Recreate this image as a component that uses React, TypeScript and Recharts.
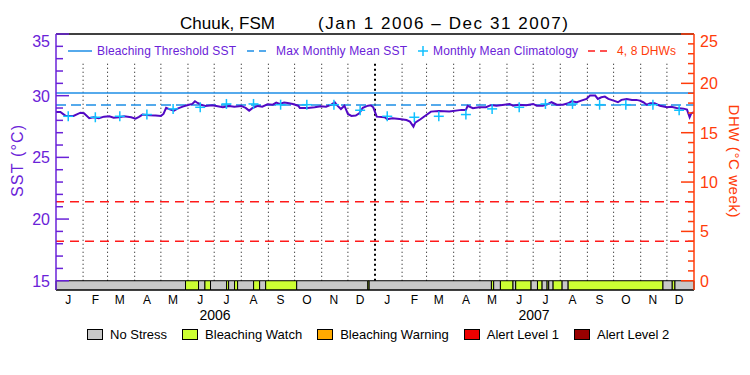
import {
  ComposedChart,
  Line,
  Scatter,
  XAxis,
  YAxis,
  ReferenceLine,
  ReferenceArea,
} from 'recharts';

const monthLetters = ['J', 'F', 'M', 'A', 'M', 'J', 'J', 'A', 'S', 'O', 'N', 'D'];
const years = [2006, 2007];

// monthly mean climatology (°C), Jan..Dec
const climatology = [28.33, 28.25, 28.33, 28.47, 28.93, 29.06, 29.33, 29.33, 29.27, 29.27, 29.27, 28.82];

const bleachingThreshold = 30.22;
const maxMonthlyMean = 29.25;
const dhwLevels = [4, 8];

// SST, days since Jan 1 2006
const sstDay = [
  0, 5, 11, 20, 28, 32, 38, 43, 49, 55, 61, 66, 72, 78, 86, 91, 95, 99, 107, 114,
  120, 123, 126, 131, 135, 139, 145, 150, 156, 159, 162, 166, 171, 179, 185, 191, 198, 204, 212, 217,
  221, 225, 231, 236, 242, 248, 252, 256, 261, 265, 271, 277, 279, 288, 296, 303, 309, 315, 319, 322,
  326, 330, 334, 338, 343, 347, 351, 357, 360, 363, 367, 376, 379, 385, 393, 401, 405, 409, 411, 417,
  429, 438, 450, 464, 469, 471, 477, 484, 492, 498, 504, 513, 519, 523, 529, 538, 546, 550, 557, 563,
  567, 573, 580, 586, 590, 596, 601, 607, 611, 617, 620, 624, 628, 632, 638, 643, 647, 653, 659, 664,
  668, 672, 676, 680, 685, 691, 699, 704, 710, 718, 722, 725, 727, 730,
];
const sstValue = [
  28.68, 28.68, 28.36, 28.36, 28.62, 28.58, 28.17, 28.25, 28.17, 28.3, 28.33, 28.22, 28.25, 28.33, 28.25, 28.14, 28.28, 28.47, 28.41, 28.39,
  28.36, 28.52, 29.01, 28.87, 28.79, 28.95, 29.11, 29.22, 29.33, 29.55, 29.41, 29.27, 29.17, 29.22, 29.14, 29.06, 29.17, 29.11, 29.17, 29.01,
  28.79, 29.01, 29.17, 29.11, 29.3, 29.27, 29.44, 29.33, 29.44, 29.41, 29.33, 29.19, 29.01, 29.01, 29.06, 29.14, 29.11, 29.27, 29.46, 29.19,
  28.92, 29.19, 28.52, 28.36, 28.39, 28.58, 29.01, 29.19, 29.22, 29.06, 28.3, 28.25, 28.09, 28.17, 28.11, 28.03, 27.9, 27.49, 27.82, 28.09,
  28.71, 28.76, 28.71, 28.85, 28.85, 29.17, 28.98, 29.06, 29.06, 29.25, 29.19, 29.27, 29.33, 29.19, 29.27, 29.22, 29.33, 29.19, 29.19, 29.33,
  29.47, 29.27, 29.27, 29.38, 29.55, 29.47, 29.6, 29.74, 30.01, 30.01, 29.74, 29.87, 29.93, 29.74, 29.6, 29.47, 29.66, 29.74, 29.66, 29.66,
  29.6, 29.47, 29.27, 29.38, 29.38, 29.19, 29.06, 29.11, 29.01, 28.95, 28.87, 28.25, 28.58, 28.66,
];

// bleaching alert status strip: segment edges (days) and level per segment
const stressEdges = [
  0, 148.2, 163.1, 170.4, 176.8, 195.2, 197.5, 204.3, 207.8, 226.1, 233.0, 239.9, 275.4, 356.8, 358.3,
  498.2, 500.8, 508.5, 522.9, 526, 543.6, 550.9, 556.2, 561.9, 563.8, 568.8, 579.1, 586, 694.5, 705.1, 708.2, 730,
];
const stressLevel = [0, 1, 0, 1, 0, 1, 0, 1, 0, 1, 0, 1, 0, 1, 0, 1, 0, 1, 0, 1, 0, 1, 0, 1, 0, 1, 0, 1, 0, 1, 0];
const stressLabels = ['No Stress', 'Bleaching Watch', 'Bleaching Warning', 'Alert Level 1', 'Alert Level 2'];
const stressColors = ['#c8c8c8', '#ccff33', '#ffaa00', '#ee0000', '#990000'];

const leftTicks = [15, 16, 17, 18, 19, 20, 21, 22, 23, 24, 25, 26, 27, 28, 29, 30, 31, 32, 33, 34, 35];
const rightTicks = [0, 1, 2, 3, 4, 5, 6, 7, 8, 9, 10, 11, 12, 13, 14, 15, 16, 17, 18, 19, 20, 21, 22, 23, 24, 25];

const PURPLE = '#6a22d8';
const SST_COLOR = '#5208c4';
const ORANGE = '#ff3c0a';
const BLUE = '#1e8ee6';
const CYAN = '#10c0ff';
const RED = '#ff1a1a';
const FONT = '"Liberation Sans", Arial, sans-serif';

const dayOf = (y: number, m: number, d: number) =>
  Math.round((Date.UTC(y, m, d) - Date.UTC(2006, 0, 1)) / 86400000);

const monthStarts = years.flatMap((y) => monthLetters.map((_, m) => dayOf(y, m, 1))).filter((d) => d > 0);
const monthMids = years.flatMap((y) => monthLetters.map((_, m) => dayOf(y, m, 15)));
const yearCenters = years.map((y) => dayOf(y, 6, 2));

const sstData = sstDay.map((day, i) => ({ day, sst: sstValue[i] }));
const climData = monthMids.map((day, i) => ({ day, clim: climatology[i % 12] }));

const XTick = ({ x, y, payload }: any) => {
  const yi = yearCenters.indexOf(payload.value);
  if (yi >= 0) {
    return (
      <text x={x} y={y + 30} textAnchor="middle" fontSize={14} fontFamily={FONT} fill="#000">
        {years[yi]}
      </text>
    );
  }
  const mi = monthMids.indexOf(payload.value);
  return (
    <text x={x} y={y + 14} textAnchor="middle" fontSize={12} fontFamily={FONT} fill="#000">
      {monthLetters[mi % 12]}
    </text>
  );
};

const LeftTick = ({ x, y, payload }: any) => {
  const major = payload.value % 5 === 0;
  return (
    <g>
      <line x1={x} x2={x + (major ? 13 : 7)} y1={y} y2={y} stroke={PURPLE} strokeWidth={1.5} />
      {major && (
        <text x={x - 6} y={Math.max(y, 41)} dy={6} textAnchor="end" fontSize={16} fontFamily={FONT} fill={PURPLE}>
          {payload.value}
        </text>
      )}
    </g>
  );
};

const RightTick = ({ x, y, payload }: any) => {
  const major = payload.value % 5 === 0;
  return (
    <g>
      <line x1={x} x2={x - (major ? 13 : 6)} y1={y} y2={y} stroke={ORANGE} strokeWidth={1.5} />
      {major && (
        <text x={x + 6} y={Math.max(y, 41)} dy={6} textAnchor="start" fontSize={16} fontFamily={FONT} fill={ORANGE}>
          {payload.value}
        </text>
      )}
    </g>
  );
};

const Cross = ({ cx, cy }: any) => (
  <g>
    <line x1={cx - 5} x2={cx + 5} y1={cy} y2={cy} stroke={CYAN} strokeWidth={1.5} />
    <line x1={cx} x2={cx} y1={cy - 5} y2={cy + 5} stroke={CYAN} strokeWidth={1.5} />
  </g>
);

export default function App() {
  return (
    <div style={{ position: 'absolute', left: 0, top: 0, width: 750, height: 375, background: '#fff' }}>
      <ComposedChart width={750} height={375} margin={{ top: 34, right: 0, bottom: 45, left: 0 }}>
        <XAxis
          type="number"
          dataKey="day"
          domain={[0, 730]}
          allowDataOverflow
          ticks={[...monthMids, ...yearCenters]}
          interval={0}
          tick={XTick}
          tickLine={false}
          tickSize={0}
          tickMargin={0}
          axisLine={{ stroke: '#000' }}
          height={40}
        />
        <YAxis
          yAxisId="left"
          type="number"
          domain={[14.25, 35]}
          allowDataOverflow
          ticks={leftTicks}
          interval={0}
          tick={LeftTick}
          tickLine={false}
          tickSize={0}
          tickMargin={0}
          axisLine={{ stroke: PURPLE, strokeWidth: 1.5 }}
          width={56}
        />
        <YAxis
          yAxisId="right"
          orientation="right"
          type="number"
          domain={[-0.9375, 25]}
          allowDataOverflow
          ticks={rightTicks}
          interval={0}
          tick={RightTick}
          tickLine={false}
          tickSize={0}
          tickMargin={0}
          axisLine={{ stroke: ORANGE, strokeWidth: 1.5 }}
          width={56}
        />

        {stressLevel.map((lvl, i) => (
          <ReferenceArea
            key={`s${i}`}
            yAxisId="left"
            x1={stressEdges[i]}
            x2={stressEdges[i + 1]}
            y1={14.25}
            y2={15}
            fill={stressColors[lvl]}
            fillOpacity={1}
            stroke="#000"
            strokeWidth={1}
          />
        ))}

        {monthStarts.map((d) => (
          <ReferenceLine
            key={`m${d}`}
            yAxisId="left"
            segment={[
              { x: d, y: 15 },
              { x: d, y: 32.67 },
            ]}
            stroke="#000"
            strokeWidth={d === 365 ? 2 : 1}
            strokeDasharray={d === 365 ? '2 3' : '1 3'}
          />
        ))}

        <ReferenceLine yAxisId="left" y={35} stroke="#000" strokeWidth={1.5} />
        <ReferenceLine yAxisId="left" y={bleachingThreshold} stroke={BLUE} strokeWidth={1.5} />
        <ReferenceLine yAxisId="left" y={maxMonthlyMean} stroke={BLUE} strokeWidth={1.5} strokeDasharray="10 5" />
        {dhwLevels.map((v) => (
          <ReferenceLine key={`d${v}`} yAxisId="right" y={v} stroke={RED} strokeWidth={1.5} strokeDasharray="9 6" />
        ))}

        <Scatter yAxisId="left" data={climData} dataKey="clim" shape={Cross} isAnimationActive={false} />
        <Line
          yAxisId="left"
          data={sstData}
          dataKey="sst"
          type="linear"
          stroke={SST_COLOR}
          strokeWidth={2}
          dot={false}
          isAnimationActive={false}
        />
      </ComposedChart>

      <svg
        width={750}
        height={375}
        style={{ position: 'absolute', left: 0, top: 0, pointerEvents: 'none' }}
        fontFamily={FONT}
      >
        <text x={180} y={29} fontSize={17} textLength={95} fill="#000">
          Chuuk, FSM
        </text>
        <text x={318} y={29} fontSize={17} textLength={250} fill="#000">
          (Jan 1 2006 – Dec 31 2007)
        </text>

        <line x1={68} x2={92} y1={51} y2={51} stroke={BLUE} strokeWidth={1.5} />
        <text x={97} y={55} fontSize={12} textLength={139} fill={PURPLE}>
          Bleaching Threshold SST
        </text>
        <line x1={247} x2={266} y1={51} y2={51} stroke={BLUE} strokeWidth={1.5} strokeDasharray="7 5" />
        <text x={276} y={55} fontSize={12} textLength={131} fill={PURPLE}>
          Max Monthly Mean SST
        </text>
        <Cross cx={423} cy={51} />
        <text x={433} y={55} fontSize={12} textLength={145} fill={PURPLE}>
          Monthly Mean Climatology
        </text>
        <line x1={588} x2={612} y1={51} y2={51} stroke={RED} strokeWidth={1.5} strokeDasharray="7 5" />
        <text x={617} y={55} fontSize={12} textLength={59} fill={ORANGE}>
          4, 8 DHWs
        </text>

        <text
          x={17}
          y={161}
          fontSize={16}
          textLength={72}
          fill={PURPLE}
          textAnchor="middle"
          dominantBaseline="central"
          transform="rotate(-90 17 161)"
        >
          SST (°C)
        </text>
        <text
          x={734}
          y={161}
          fontSize={15}
          textLength={113}
          fill={ORANGE}
          textAnchor="middle"
          dominantBaseline="central"
          transform="rotate(90 734 161)"
        >
          DHW (°C week)
        </text>
      </svg>

      <div
        style={{
          position: 'absolute',
          left: 87,
          top: 329,
          display: 'flex',
          alignItems: 'center',
          fontFamily: FONT,
          fontSize: 13,
          lineHeight: '11px',
          color: '#000',
        }}
      >
        {stressLabels.map((label, i) => (
          <div key={label} style={{ display: 'flex', alignItems: 'center', marginRight: 15 }}>
            <div
              style={{
                width: 14,
                height: 9,
                background: stressColors[i],
                border: '1px solid #000',
                marginRight: 7,
              }}
            />
            <span>{label}</span>
          </div>
        ))}
      </div>
    </div>
  );
}
